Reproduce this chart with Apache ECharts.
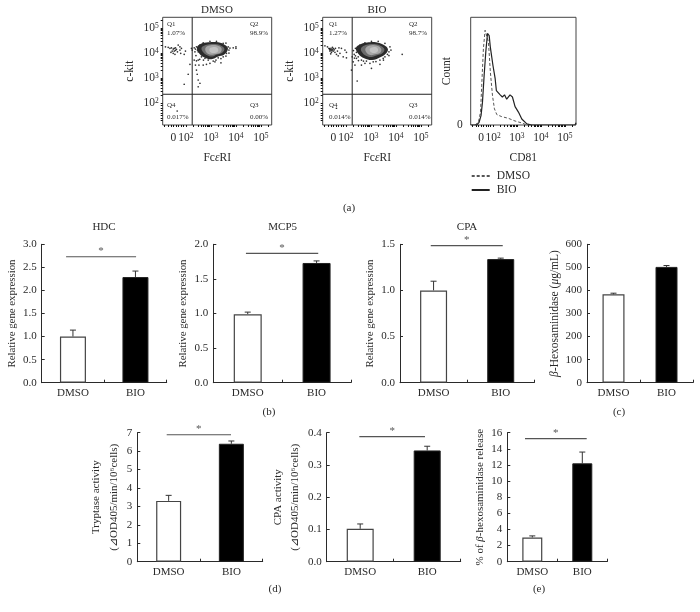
<!DOCTYPE html>
<html><head><meta charset="utf-8">
<style>html,body{margin:0;padding:0;background:#fff}#c{width:700px;height:612px}</style>
<script src="https://cdn.jsdelivr.net/npm/echarts@6/dist/echarts.min.js"></script>
</head><body><div id="c"></div>
<script>
// ---------- data ----------
const categories = ['DMSO', 'BIO'];
const hdcValues = [1.0, 2.29],      hdcErrors = [1.14, 2.42];
const mcp5Values = [0.99, 1.73],    mcp5Errors = [1.02, 1.76];
const cpaValues = [1.0, 1.34],      cpaErrors = [1.10, 1.35];
const hexValues = [383, 502],       hexErrors = [388, 508];
const tryptaseValues = [3.3, 6.4],  tryptaseErrors = [3.6, 6.55];
const cpaActValues = [0.102, 0.345],cpaActErrors = [0.117, 0.358];
const releaseValues = [3.0, 12.2],  releaseErrors = [3.2, 13.6];

const flowTickLabels = ['0', '10{s|2}', '10{s|3}', '10{s|4}', '10{s|5}'];
const flowTickValues = [1.5, 2, 3, 4, 5];
const flowMinorTicks = [1.15,1.3,1.4,1.5,1.6,1.7,1.8,1.9,2,2.3,2.48,2.6,2.7,2.78,2.85,2.9,2.95,3,3.3,3.48,3.6,3.7,3.78,3.85,3.9,3.95,4,4.3,4.48,4.6,4.7,4.78,4.85,4.9,4.95,5,5.3];

const dmsoOuter = [[2.44,4.22],[2.6,4.37],[2.89,4.43],[3.29,4.43],[3.58,4.31],[3.68,4.16],[3.52,3.93],[3.29,3.86],[3.02,3.75],[2.74,3.82],[2.54,3.97]];
const dmsoMid = [[2.62,4.2],[2.74,4.3],[2.93,4.35],[3.24,4.35],[3.46,4.26],[3.54,4.14],[3.42,3.99],[3.24,3.94],[3.05,3.86],[2.85,3.91],[2.7,4.02]];
const dmsoInner = [[2.78,4.2],[2.95,4.3],[3.25,4.3],[3.42,4.19],[3.38,4.02],[3.2,3.96],[3.0,3.93],[2.82,4.02]];
const dmsoCore = [[2.95,4.18],[3.1,4.24],[3.26,4.2],[3.28,4.06],[3.1,4.0],[2.96,4.05]];
const dmsoEvents = [[1.18,4.25],[1.29,4.23],[1.36,4.19],[1.42,4.21],[1.49,4.16],[1.53,4.19],[1.58,4.21],[1.62,4.15],[1.45,4.08],[1.53,4.08],[1.58,4.11],[1.49,3.99],[1.56,3.95],[1.66,4.05],[1.76,4.25],[1.82,4.19],[1.76,4.12],[1.93,3.95],[1.79,3.99],[1.98,4.08],[1.69,4.32],[1.40,4.03],
 [2.22,4.19],[2.25,4.12],[2.33,4.21],[2.38,4.16],[2.33,3.72],[2.42,3.69],[2.49,3.72],[2.16,3.55],[2.38,3.52],[2.52,3.52],[2.69,3.52],[2.82,3.55],[2.96,3.59],[3.16,3.65],[3.40,3.61],[2.09,3.15],[1.93,2.75],[2.45,3.15],[2.49,2.92],[2.56,2.79],[2.49,2.65],[2.42,3.32],
 [3.89,4.21],[4.0,4.25],[4.0,4.19],[3.72,4.12],[2.42,4.25],[2.49,4.05],[2.62,3.85],[2.76,3.79],[2.89,3.72],[3.09,3.68],[3.29,3.81],[3.49,3.85],[3.62,3.99],[3.69,4.25],[3.49,4.39],[3.22,4.47],[2.96,4.47],[2.69,4.41],[2.56,4.32],[2.46,4.12],[1.65,1.68],
 [2.36,4.05],[2.4,3.9],[2.55,3.75],[2.7,3.72],[3.2,3.72],[3.4,3.78],[3.6,3.88],[3.72,4.0],[3.76,4.2],[3.6,4.4]];

const bioOuter = [[2.4,4.2],[2.58,4.35],[2.85,4.42],[3.2,4.43],[3.52,4.32],[3.68,4.15],[3.58,3.96],[3.35,3.82],[3.05,3.72],[2.73,3.79],[2.5,3.96]];
const bioMid = [[2.6,4.18],[2.74,4.3],[2.93,4.35],[3.2,4.35],[3.44,4.26],[3.54,4.13],[3.44,3.98],[3.25,3.91],[3.02,3.84],[2.8,3.89],[2.65,4.02]];
const bioInner = [[2.78,4.18],[2.95,4.3],[3.22,4.3],[3.4,4.18],[3.38,4.02],[3.18,3.95],[2.98,3.92],[2.82,4.02]];
const bioCore = [[2.96,4.17],[3.12,4.24],[3.27,4.18],[3.26,4.05],[3.1,4.0],[2.97,4.06]];
const bioEvents = [[1.16,4.29],[1.26,4.25],[1.32,4.19],[1.36,4.13],[1.40,4.19],[1.45,4.15],[1.49,4.08],[1.36,4.08],[1.42,4.03],[1.53,4.13],[1.56,4.03],[1.62,3.95],[1.69,3.89],[1.76,3.99],[1.58,4.19],[1.72,4.21],[1.82,4.19],[1.96,4.12],[2.02,4.03],[1.89,3.85],[2.02,3.81],[1.66,4.08],[1.46,4.23],[1.39,3.97],
 [4.25,3.95],[2.29,3.65],[2.36,3.52],[2.42,3.79],[2.33,3.95],[2.25,3.85],[2.22,3.32],[2.62,3.52],[3.02,3.39],[2.76,3.59],[2.96,3.59],[3.36,3.55],[2.45,2.88],[1.62,1.79],
 [2.38,4.19],[2.42,4.03],[2.49,3.85],[2.62,3.72],[2.82,3.68],[3.09,3.65],[3.36,3.72],[3.56,3.85],[3.72,4.05],[3.76,4.25],[3.56,4.39],[3.29,4.47],[3.02,4.47],[2.76,4.41],[2.56,4.32],[3.66,3.95],[3.49,3.79],[2.38,3.89],
 [1.4,4.13],[1.44,4.1],[1.5,4.18],[1.34,4.17],[2.3,4.1],[2.34,3.8],[2.5,3.7],[2.7,3.68],[3.2,3.66],[3.5,3.72],[3.72,3.9],[3.8,4.12]];

const histBio = [[1.07,0],[1.32,0],[1.42,2.5],[1.50,8.7],[1.56,21],[1.63,46],[1.70,68],[1.77,85],[1.84,83],[1.89,72],[1.95,71],[2.00,55],[2.09,43],[2.14,32],[2.30,28],[2.39,26],[2.48,28],[2.57,24],[2.71,28],[2.81,26],[2.92,17],[3.06,12],[3.20,5.6],[3.41,1],[3.61,0],[5.42,0],[5.46,2]];
const histDmso = [[1.25,0],[1.39,2.5],[1.48,12],[1.53,37],[1.60,71],[1.67,88],[1.74,89],[1.81,77],[1.89,49],[1.98,27],[2.06,15],[2.16,9.6],[2.36,7.8],[2.64,6.2],[2.92,3.7],[3.20,1.9],[3.41,0],[3.61,0]];

const gateX = 2.25, gateY = 2.35;

// ---------- layout ----------
const FONT = '"Liberation Serif", serif';
const INK = '#2a2a2a';
const grids = [], xAxes = [], yAxes = [], series = [], graphics = [];

function text(x, y, s, size, align) {
  graphics.push({type:'text', x:x, y:y, silent:true, style:{text:s, fill:INK, font:size+'px '+FONT, textAlign:align||'center', textVerticalAlign:'middle'}});
}

function barPanel(o) {
  const g = grids.length;
  grids.push({left:o.left, top:o.top, width:o.width, height:o.height, show:false});
  const xi = xAxes.length;
  const ns = o.nameSize||10.8;
  xAxes.push({type:'category', gridIndex:g, data:categories,
    axisLine:{lineStyle:{color:INK,width:1}}, axisTick:{show:true,inside:true,length:3,alignWithLabel:false,lineStyle:{color:INK}},
    axisLabel:{color:INK,fontFamily:FONT,fontSize:11,margin:5,interval:0}});
  xAxes.push({type:'value', gridIndex:g, min:0, max:2, show:false});
  const yi = yAxes.length;
  yAxes.push({type:'value', gridIndex:g, min:0, max:o.max, interval:o.step,
    name:o.name, nameLocation:'middle', nameGap:o.gap, nameRotate:90,
    nameTextStyle:{color:INK,fontFamily:FONT,fontSize:ns,lineHeight:o.lh||14,
      rich:{i:{fontStyle:'italic',fontFamily:FONT,fontSize:ns,color:INK}}},
    axisLine:{show:true,lineStyle:{color:INK,width:1}}, axisTick:{show:true,inside:true,length:3,lineStyle:{color:INK}},
    axisLabel:{color:INK,fontFamily:FONT,fontSize:11,margin:5,formatter:v=>v.toFixed(o.dec)}, splitLine:{show:false}});
  series.push({type:'bar', xAxisIndex:xi, yAxisIndex:yi, barWidth:o.barW, silent:true,
    data:[{value:o.values[0],itemStyle:{color:'#fff',borderColor:'#444',borderWidth:1.2}},
          {value:o.values[1],itemStyle:{color:'#000',borderColor:'#222',borderWidth:1}}], z:2});
  series.push({type:'custom', xAxisIndex:xi, yAxisIndex:yi, silent:true, z:1,
    data:o.values.map((v,i)=>[i,v,o.errors[i]]), encode:{x:0,y:[1,2]},
    renderItem:(p,api)=>{
      const a=api.coord([api.value(0),api.value(1)]), b=api.coord([api.value(0),api.value(2)]);
      const st={stroke:'#333',lineWidth:1,fill:'none'};
      return {type:'group',children:[
        {type:'line',shape:{x1:a[0],y1:a[1],x2:b[0],y2:b[1]},style:st},
        {type:'line',shape:{x1:b[0]-3,y1:b[1],x2:b[0]+3,y2:b[1]},style:st}]};
    }});
  if (o.sig) {
    series.push({type:'line', xAxisIndex:xi+1, yAxisIndex:yi, silent:true, symbol:'none', z:3,
      lineStyle:{color:'#555',width:1.2},
      data:[[o.sig[0],o.sig[2]],[o.sig[1],o.sig[2]]]});
    series.push({type:'scatter', xAxisIndex:xi+1, yAxisIndex:yi, silent:true, symbolSize:0, z:3,
      label:{show:true,position:'top',distance:0,formatter:'*',color:INK,fontFamily:FONT,fontSize:11},
      data:[[(o.sig[0]+o.sig[1])/2,o.sig[2]]]});
  }
}

const T1=244.3, H1=138.4, T2=432.7, H2=129;
barPanel({left:41.7,top:T1,width:125,height:H1,max:3,step:.5,dec:1,values:hdcValues,errors:hdcErrors,barW:26,sig:[.39,1.51,2.73],name:'Relative gene expression',gap:23});
barPanel({left:213.3,top:T1,width:137.7,height:H1,max:2,step:.5,dec:1,values:mcp5Values,errors:mcp5Errors,barW:28,sig:[.474,1.524,1.87],name:'Relative gene expression',gap:22});
barPanel({left:400,top:T1,width:134.3,height:H1,max:1.5,step:.5,dec:1,values:cpaValues,errors:cpaErrors,barW:27,sig:[.458,1.53,1.485],name:'Relative gene expression',gap:23});
barPanel({left:587,top:T1,width:106,height:H1,max:600,step:100,dec:0,values:hexValues,errors:hexErrors,barW:22,name:'{i|β}-Hexosaminidase ({i|μ}g/mL)',gap:24,nameSize:11.5});
barPanel({left:137.3,top:T2,width:125.4,height:H2,max:7,step:1,dec:0,values:tryptaseValues,errors:tryptaseErrors,barW:25,sig:[.469,1.495,6.89],name:'Tryptase activity\n(⊿OD405/min/10⁶cells)',gap:13,lh:18,nameSize:11});
barPanel({left:326.7,top:T2,width:134,height:H2,max:.4,step:.1,dec:1,values:cpaActValues,errors:cpaActErrors,barW:27,sig:[.487,1.467,.3876],name:'CPA activity\n(⊿OD405/min/10⁶cells)',gap:21,lh:17,nameSize:11});
barPanel({left:507.3,top:T2,width:100,height:H2,max:16,step:2,dec:0,values:releaseValues,errors:releaseErrors,barW:20,sig:[.354,1.588,15.26],name:'% of {i|β}-hexosaminidase release',gap:20,nameSize:11});

function flowAxes(o) {
  const g = grids.length;
  grids.push({left:o.left,top:17.3,width:o.width,height:107.7,show:true,borderColor:'#444',borderWidth:1,backgroundColor:'transparent'});
  const tick={show:true,length:2,customValues:flowMinorTicks,lineStyle:{color:'#111'}};
  const rich={s:{fontSize:7.5,verticalAlign:'top',lineHeight:10,fontFamily:FONT,color:INK}};
  xAxes.push({type:'value',gridIndex:g,min:o.xmin,max:o.xmax,axisLine:{show:false},splitLine:{show:false},
    axisTick:tick,
    axisLabel:{customValues:flowTickValues,color:INK,fontFamily:FONT,fontSize:11.5,margin:7,rich,
      formatter:v=>flowTickLabels[flowTickValues.indexOf(v)]||''},
    name:o.xname,nameLocation:'middle',nameGap:27,nameTextStyle:{color:INK,fontFamily:FONT,fontSize:11.5,rich:{i:{fontStyle:'italic',fontFamily:FONT,fontSize:11.5,color:INK}}}});
  yAxes.push(Object.assign({type:'value',gridIndex:g,axisLine:{show:false},splitLine:{show:false},
    name:o.yname,nameLocation:'middle',nameGap:o.ygap,nameRotate:90,nameTextStyle:{color:INK,fontFamily:FONT,fontSize:11.5}},o.y));
  return g;
}
function polygon(xi, yi, pts, fill, z) {
  series.push({type:'custom',xAxisIndex:xi,yAxisIndex:yi,silent:true,z:z,data:[pts[0]],clip:true,
    renderItem:(p,api)=>({type:'polygon',shape:{points:pts.map(q=>api.coord(q)),smooth:.4},style:{fill:fill,stroke:'none'}})});
}
function flowPanel(o){
  const xi=xAxes.length, yi=yAxes.length;
  const yCfg={min:1.12,max:5.43,
    axisTick:{show:true,length:2,customValues:flowMinorTicks.filter(v=>v>=1.3),lineStyle:{color:'#111'}},
    axisLabel:{customValues:[1.55,2,3,4,5],color:INK,fontFamily:FONT,fontSize:11.5,margin:4,
      rich:{s:{fontSize:7.5,verticalAlign:'top',lineHeight:10,fontFamily:FONT,color:INK}},
      formatter:v=>({1.55:'0',2:'10{s|2}',3:'10{s|3}',4:'10{s|4}',5:'10{s|5}'})[v]||''}};
  flowAxes({left:o.left,width:109,xmin:1.07,xmax:5.43,xname:'Fc{i|ε}RI',yname:'c-kit',ygap:27,y:yCfg});
  polygon(xi,yi,o.polys[0],'#2b2b2b',3);
  polygon(xi,yi,o.polys[1],'#6c6c6c',4);
  polygon(xi,yi,o.polys[2],'#a6a6a6',5);
  polygon(xi,yi,o.polys[3],'#c2c2c2',6);
  series.push({type:'scatter',xAxisIndex:xi,yAxisIndex:yi,silent:true,symbolSize:1.7,itemStyle:{color:'#000'},z:2,data:o.events});
  series.push({type:'line',xAxisIndex:xi,yAxisIndex:yi,silent:true,symbol:'none',z:7,lineStyle:{color:'#222',width:1},data:[[gateX,1.12],[gateX,5.43]]});
  series.push({type:'line',xAxisIndex:xi,yAxisIndex:yi,silent:true,symbol:'none',z:7,lineStyle:{color:'#222',width:1},data:[[1.07,gateY],[5.43,gateY]]});
}
flowPanel({left:162.7,polys:[dmsoOuter,dmsoMid,dmsoInner,dmsoCore],events:dmsoEvents});
flowPanel({left:322.7,polys:[bioOuter,bioMid,bioInner,bioCore],events:bioEvents});

// histogram
{
  const xi=xAxes.length, yi=yAxes.length;
  flowAxes({left:470.7,width:105.3,xmin:1.07,xmax:5.46,xname:'CD81',yname:'Count',ygap:17,
    y:{min:0,max:100,axisTick:{show:false},axisLabel:{customValues:[0],color:INK,fontFamily:FONT,fontSize:11.5,margin:8}}});
  series.push({type:'line',name:'DMSO',xAxisIndex:xi,yAxisIndex:yi,silent:true,symbol:'none',z:3,itemStyle:{color:'#555'},lineStyle:{color:'#555',width:1,type:[3,2]},data:histDmso});
  series.push({type:'line',name:'BIO',xAxisIndex:xi,yAxisIndex:yi,silent:true,symbol:'none',z:4,itemStyle:{color:'#222'},lineStyle:{color:'#222',width:1.2},data:histBio});
}

// text
text(217,10,'DMSO',11); text(377,10,'BIO',11);
text(104,226.7,'HDC',11); text(282.7,226.7,'MCP5',11); text(467,226.7,'CPA',11);
text(349,208,'(a)',11); text(269,411.7,'(b)',11); text(619,411.7,'(c)',11); text(275,589,'(d)',11); text(539,589,'(e)',11);
[[167,250,'1.07%','98.9%','0.017%','0.00%'],[329,409,'1.27%','98.7%','0.014%','0.014%']].forEach(r=>{
  text(r[0],24,'Q1',7,'left'); text(r[1],24,'Q2',7,'left');
  text(r[0],32.7,r[2],7,'left'); text(r[1],32.7,r[3],7,'left');
  text(r[0],105,'Q4',7,'left'); text(r[1],105,'Q3',7,'left');
  text(r[0],116.7,r[4],7,'left'); text(r[1],116.7,r[5],7,'left');
});

const chart = echarts.init(document.getElementById('c'), null, {renderer:'canvas'});
chart.setOption({
  animation:false, backgroundColor:'#fff', textStyle:{fontFamily:FONT},
  legend:{orient:'vertical',left:470.7,top:170,padding:0,itemWidth:18,itemHeight:8,itemGap:2,selectedMode:false,data:['DMSO','BIO'],
    itemStyle:{opacity:0},
    textStyle:{color:INK,fontFamily:FONT,fontSize:11.5,padding:[0,0,0,2]}},
  grid:grids, xAxis:xAxes, yAxis:yAxes, series:series, graphic:graphics
});
</script></body></html>
